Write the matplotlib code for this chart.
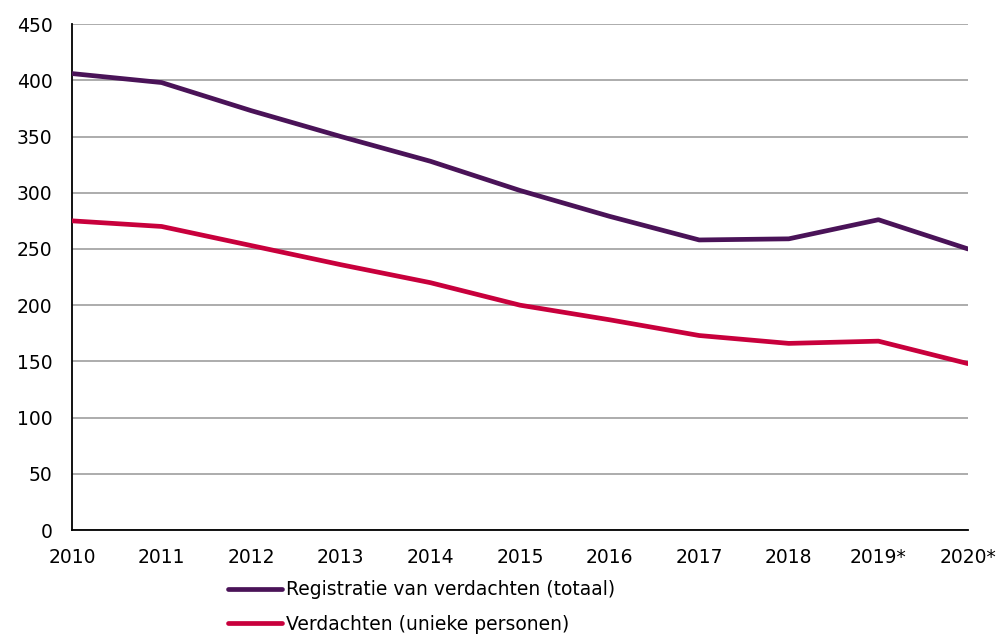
import matplotlib
matplotlib.use("Agg")
import matplotlib.pyplot as plt
from matplotlib.lines import Line2D

years = ["2010", "2011", "2012", "2013", "2014", "2015", "2016", "2017", "2018", "2019*", "2020*"]
registraties = [406, 398, 373, 350, 328, 302, 279, 258, 259, 276, 250]
verdachten = [275, 270, 253, 236, 220, 200, 187, 173, 166, 168, 148]
yticks = [0, 50, 100, 150, 200, 250, 300, 350, 400, 450]

label_reg = "Registratie van verdachten (totaal)"
label_ver = "Verdachten (unieke personen)"
c_reg = "#4a1358"
c_ver = "#c8003c"

plt.rcParams['font.family'] = ['DejaVu Sans']
fig = plt.figure(figsize=(10, 6.34), dpi=100)
ax = fig.add_axes([0.072, 0.164, 0.896, 0.798])

x = list(range(len(years)))
ax.plot(x, registraties, color=c_reg, lw=3.4, solid_capstyle='round', solid_joinstyle='round', zorder=3)
ax.plot(x, verdachten, color=c_ver, lw=3.4, solid_capstyle='round', solid_joinstyle='round', zorder=3)

ax.set_xlim(0, len(years) - 1)
ax.set_ylim(0, 450)
ax.set_yticks(yticks)
ax.set_xticks(x)
ax.set_xticklabels(years)
ax.yaxis.grid(True, color="#a6a6a6", lw=1.3)
ax.set_axisbelow(True)
for s in ["top", "right"]:
    ax.spines[s].set_visible(False)
ax.spines["left"].set_color("black")
ax.spines["bottom"].set_color("black")
ax.spines["left"].set_linewidth(1.3)
ax.spines["bottom"].set_linewidth(1.3)
ax.tick_params(axis='both', length=0, labelsize=13.5, colors="black")
ax.tick_params(axis='x', pad=13)
ax.tick_params(axis='y', pad=14)

handles = [Line2D([0], [0], color=c_reg, lw=3.4, solid_capstyle='round'),
           Line2D([0], [0], color=c_ver, lw=3.4, solid_capstyle='round')]
fig.legend(handles, [label_reg, label_ver], loc='upper left',
           bbox_to_anchor=(0.228, 0.085), frameon=False, fontsize=13.5,
           handlelength=2.9, handletextpad=0.2, labelspacing=0.85,
           borderpad=0, borderaxespad=0)

fig.savefig("out.png", dpi=100)
